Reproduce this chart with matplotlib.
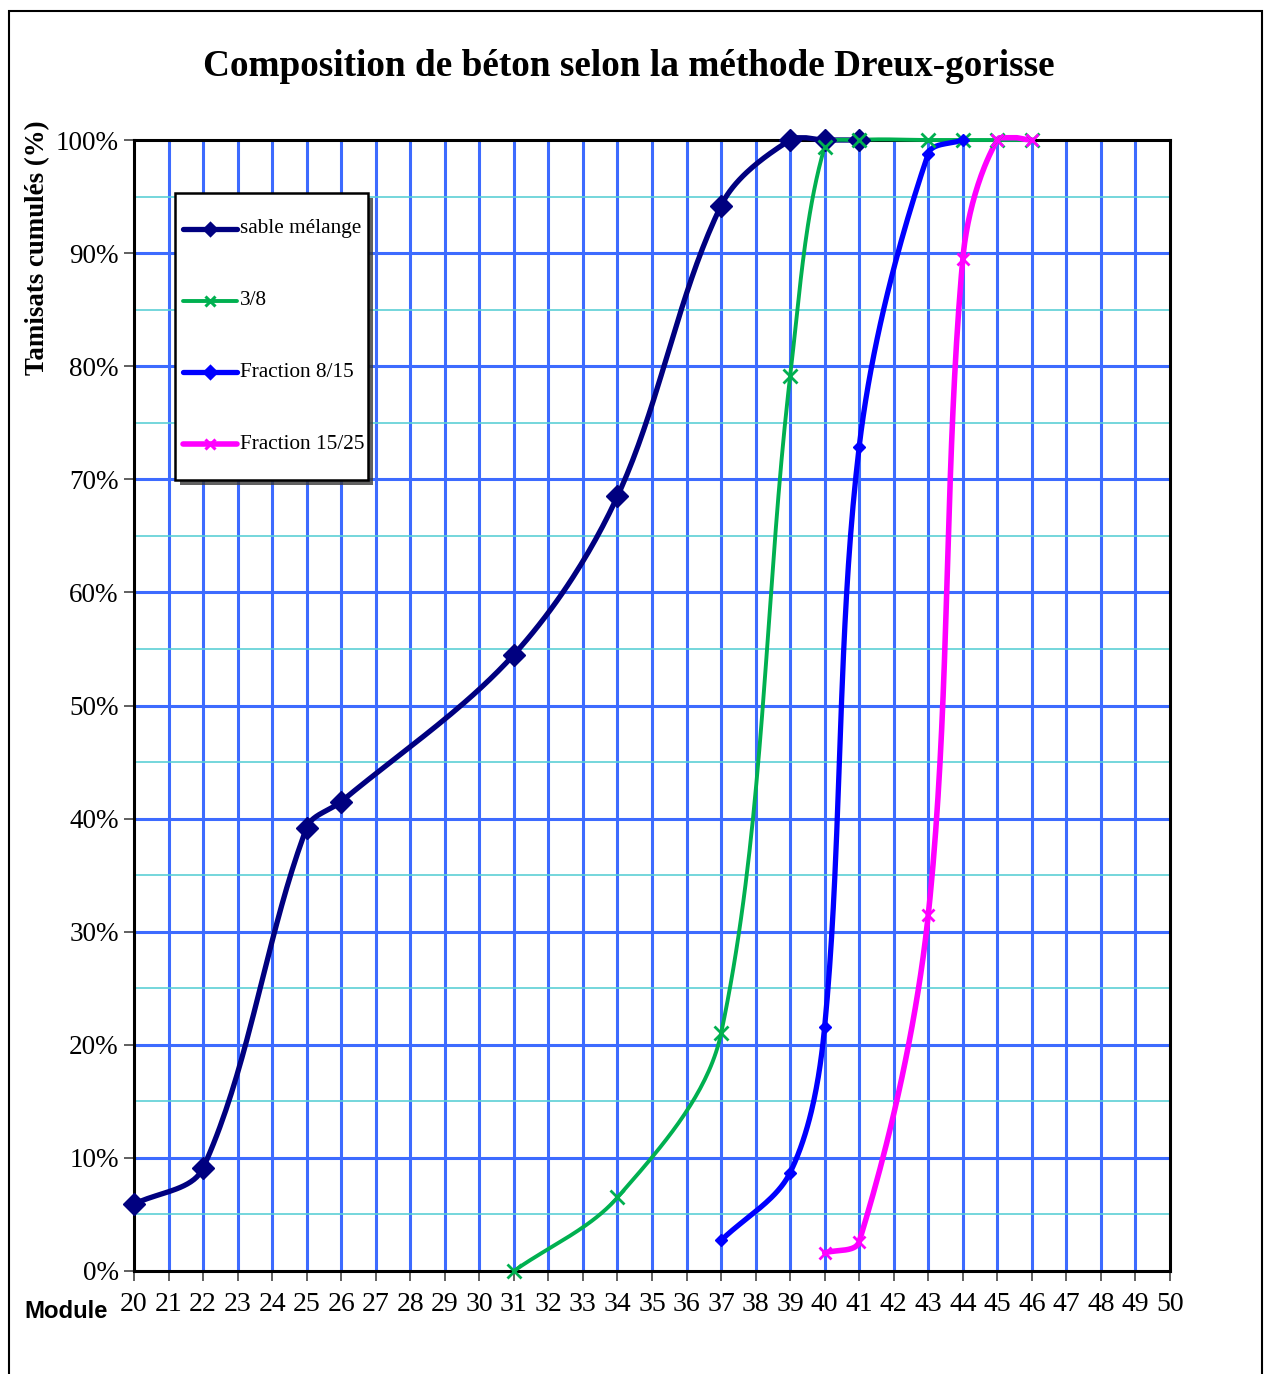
import numpy as np
import matplotlib.pyplot as plt
from matplotlib.patches import Rectangle
from matplotlib.lines import Line2D

# Values (Module -> cumulative passing, %)
sable_x = [20, 22, 25, 26, 31, 34, 37, 39, 40, 41]
sable_y = [5.9, 9.1, 39.2, 41.5, 54.5, 68.5, 94.2, 100, 100, 100]

g38_x = [31, 34, 37, 39, 40, 41, 43, 44, 45, 46]
g38_y = [0.0, 6.5, 21.0, 79.1, 99.4, 100, 100, 100, 100, 100]

f815_x = [37, 39, 40, 41, 43, 44]
f815_y = [2.7, 8.7, 21.6, 72.9, 98.8, 100]

f1525_x = [40, 41, 43, 44, 45, 46]
f1525_y = [1.6, 2.6, 31.5, 89.5, 100, 100]

x_ticks = list(range(20, 51))
y_ticks = list(range(0, 101, 10))

W, H = 1264, 1374
SX, SY = 34.53, 11.31   # pixels per unit, used to smooth in screen space


# Excel-like smoothed line: Bezier with tangents scaled by segment length
def smooth(xs, ys, n=40):
    p = np.column_stack([np.array(xs) * SX, np.array(ys) * SY]).astype(float)
    out = []
    for i in range(len(p) - 1):
        p1, p2 = p[i], p[i + 1]
        p0 = p[i - 1] if i > 0 else p1
        p3 = p[i + 2] if i + 2 < len(p) else p2
        d01 = np.hypot(*(p1 - p0))
        d12 = np.hypot(*(p2 - p1))
        d23 = np.hypot(*(p3 - p2))
        c1 = p1 + (p2 - p0) * d12 / (d01 + d12) / 3
        c2 = p2 - (p3 - p1) * d12 / (d12 + d23) / 3
        t = np.linspace(0, 1, n)[:, None]
        seg = (1 - t) ** 3 * p1 + 3 * (1 - t) ** 2 * t * c1 + 3 * (1 - t) * t ** 2 * c2 + t ** 3 * p2
        out.append(seg)
    s = np.vstack(out)
    return s[:, 0] / SX, s[:, 1] / SY


def fx(px):
    return px / W


def fy(py):
    return 1 - py / H


fig = plt.figure(figsize=(12.64, 13.74), dpi=100)
ax = fig.add_axes([fx(134), fy(1271), (1170 - 134) / W, (1271 - 140) / H])

# outer frame
fig.patches.append(Rectangle((fx(9), -0.05), fx(1253), fy(11) + 0.05,
                             transform=fig.transFigure, fill=False, edgecolor='black', linewidth=1.5))

ax.set_xlim(20, 50)
ax.set_ylim(0, 100)

# grid
for v in range(21, 50):
    ax.axvline(v, color='#3d6bff', linewidth=2.2, zorder=1)
for v in range(10, 100, 10):
    ax.axhline(v, color='#3d6bff', linewidth=2.2, zorder=1)
for v in range(5, 100, 10):
    ax.axhline(v, color='#5ccfd6', linewidth=1.2, zorder=1)

series = [
    (sable_x, sable_y, '#000080', 'D', 11, 'sable mélange', 3.8, 6),
    (g38_x, g38_y, '#00b050', 'x', 10, '3/8', 2.8, 7),
    (f815_x, f815_y, '#0000ff', 'D', 6, 'Fraction 8/15', 3.8, 6),
    (f1525_x, f1525_y, '#ff00ff', 'x', 9, 'Fraction 15/25', 4.0, 7),
]
for xs, ys, col, mk, ms, lab, lw, lms in series:
    sx, sy = smooth(xs, ys)
    sy = np.minimum(sy, 100.2)
    ax.plot(sx, sy, color=col, linewidth=lw, zorder=6, solid_capstyle='round', clip_on=False)
    ax.plot(xs, ys, linestyle='none', marker=mk, markersize=ms, color=col,
            markeredgewidth=2 if mk == 'x' else 1, zorder=6.5, clip_on=False)

ax.set_xticks(x_ticks)
ax.set_xticklabels([str(v) for v in x_ticks], fontfamily='Liberation Serif', fontsize=20)
ax.set_yticks(y_ticks)
ax.set_yticklabels([f'{v}%' for v in y_ticks], fontfamily='Liberation Serif', fontsize=19.5)
ax.tick_params(direction='out', length=7, width=1.2, color='#444444')
ax.tick_params(axis='x', pad=8)
ax.tick_params(axis='y', pad=4)
for sp in ax.spines.values():
    sp.set_linewidth(2.2)
    sp.set_zorder(5)

# legend box (drawn over the plot area)
lx0, ly0, lx1, ly1 = 175, 193, 368, 480
fig.add_artist(Rectangle((fx(lx0 + 5), fy(ly1 + 5)), fx(lx1 - lx0), (ly1 - ly0) / H,
                         transform=fig.transFigure, facecolor='#3a3a3a', edgecolor='none',
                         alpha=0.8, zorder=6))
fig.add_artist(Rectangle((fx(lx0), fy(ly1)), fx(lx1 - lx0), (ly1 - ly0) / H,
                         transform=fig.transFigure, facecolor='white', edgecolor='black',
                         linewidth=1.8, zorder=7))
for k, (xs, ys, col, mk, ms, lab, lw, lms) in enumerate(series):
    yy = 229 + k * 71.7
    fig.add_artist(Line2D([fx(183), fx(237)], [fy(yy), fy(yy)], transform=fig.transFigure,
                          color=col, linewidth=lw, solid_capstyle='round', zorder=8))
    fig.add_artist(Line2D([fx(210)], [fy(yy)], transform=fig.transFigure, color=col,
                          marker=mk, markersize=lms, markeredgewidth=2.2, zorder=9))
    fig.text(fx(240), fy(yy), lab, ha='left', va='center', fontfamily='Liberation Serif',
             fontsize=15.3, zorder=9)

fig.text(fx(629), fy(67), 'Composition de béton selon la méthode Dreux-gorisse',
         ha='center', va='center', fontfamily='Liberation Serif', fontweight='bold', fontsize=26.8)
fig.text(fx(38), fy(248), 'Tamisats cumulés (%)', rotation=90, ha='center', va='center',
         fontfamily='Liberation Serif', fontweight='bold', fontsize=19.4)
fig.text(fx(66), fy(1312), 'Module', ha='center', va='center',
         fontfamily='Liberation Sans', fontweight='bold', fontsize=17.2)

fig.savefig('out.png', dpi=100)
